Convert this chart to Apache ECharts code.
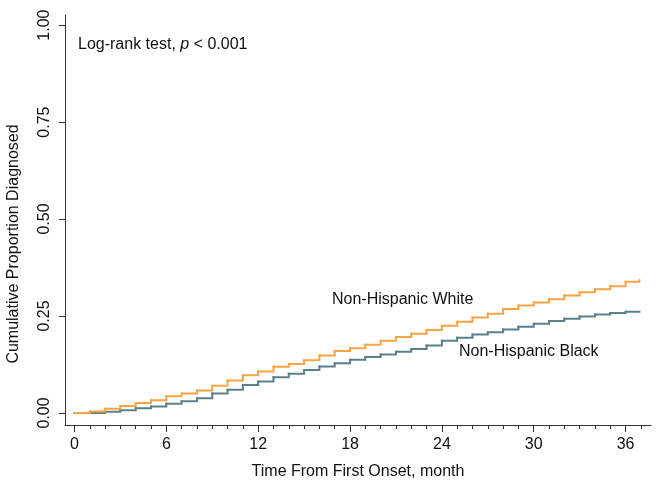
<!DOCTYPE html>
<html>
<head>
<meta charset="utf-8">
<script src="https://cdn.jsdelivr.net/npm/echarts@6/dist/echarts.min.js"></script>
<style>
  html, body { margin: 0; padding: 0; background: #fff; }
  #chart { width: 666px; height: 485px; }
</style>
</head>
<body>
<div id="chart"></div>
<script>
// months since first onset (step points), last point is the end of follow-up
const months = [0, 1, 2, 3, 4, 5, 6, 7, 8, 9, 10, 11, 12, 13, 14, 15, 16, 17, 18,
  19, 20, 21, 22, 23, 24, 25, 26, 27, 28, 29, 30, 31, 32, 33, 34, 35, 36, 36.9];

// cumulative proportion diagnosed
const whiteValues = [0, 0.004, 0.011, 0.018, 0.026, 0.033, 0.043, 0.050, 0.058, 0.070,
  0.084, 0.097, 0.107, 0.119, 0.126, 0.136, 0.148, 0.160, 0.167, 0.176, 0.186, 0.196,
  0.204, 0.214, 0.225, 0.235, 0.246, 0.256, 0.268, 0.277, 0.285, 0.293, 0.303, 0.311,
  0.319, 0.327, 0.338, 0.342];
const blackValues = [0, 0, 0.003, 0.007, 0.012, 0.017, 0.024, 0.030, 0.038, 0.050,
  0.060, 0.072, 0.081, 0.092, 0.101, 0.111, 0.120, 0.128, 0.137, 0.144, 0.151, 0.158,
  0.165, 0.174, 0.186, 0.194, 0.202, 0.208, 0.215, 0.222, 0.230, 0.237, 0.243, 0.249,
  0.254, 0.258, 0.261, 0.261];

const xMajorTicks = [0, 6, 12, 18, 24, 30, 36];
const xMinorTicks = [];
for (let m = 0; m <= 37; m++) xMinorTicks.push(m);
const yTicks = [0, 0.25, 0.5, 0.75, 1];

const font = "'Liberation Sans', Arial, Helvetica, sans-serif";
const axisColor = "#333";
const whiteColor = "#F8A443";
const blackColor = "#5B808B";

// one item per step: [x, y, nextX, nextY]
function steps(xs, ys) {
  const out = [];
  for (let i = 0; i < xs.length - 1; i++) {
    out.push([xs[i], ys[i], xs[i + 1], ys[i + 1]]);
  }
  return out;
}

// draws the horizontal run then the vertical jump, like a KM curve
function stepRenderer(color) {
  return function (params, api) {
    const a = api.coord([api.value(0), api.value(1)]);
    const b = api.coord([api.value(2), api.value(1)]);
    const c = api.coord([api.value(2), api.value(3)]);
    return {
      type: "polyline",
      shape: { points: [a, b, c] },
      style: { stroke: color, lineWidth: 2, fill: null, lineCap: "square", lineJoin: "miter" },
    };
  };
}

var myChart = echarts.init(document.getElementById("chart"));

var option = {
  animation: false,
  textStyle: { fontFamily: font },
  grid: { left: 65, right: 15, top: 15, bottom: 58 },
  xAxis: [
    {
      type: "value",
      min: -0.62,
      max: 37.66,
      position: "bottom",
      name: "Time From First Onset, month",
      nameLocation: "middle",
      nameGap: 39,
      nameTextStyle: { fontSize: 16, color: "#111", fontFamily: font },
      axisLine: { show: true, onZero: false, lineStyle: { color: axisColor, width: 1 } },
      axisTick: {
        show: true,
        length: 7,
        customValues: xMajorTicks,
        lineStyle: { color: axisColor },
      },
      axisLabel: {
        customValues: xMajorTicks,
        fontSize: 16,
        color: "#111",
        margin: 12,
        fontFamily: font,
      },
      splitLine: { show: false },
    },
    {
      type: "value",
      min: -0.62,
      max: 37.66,
      position: "bottom",
      axisLine: { show: false, onZero: false },
      axisTick: {
        show: true,
        length: 4,
        customValues: xMinorTicks,
        lineStyle: { color: axisColor },
      },
      axisLabel: { show: false },
      splitLine: { show: false },
    },
  ],
  yAxis: {
    type: "value",
    min: -0.031,
    max: 1.026,
    axisLine: { show: true, onZero: false, lineStyle: { color: axisColor, width: 1 } },
    axisTick: {
      show: true,
      length: 6,
      customValues: yTicks,
      lineStyle: { color: axisColor },
    },
    axisLabel: {
      customValues: yTicks,
      rotate: 90,
      fontSize: 16,
      color: "#111",
      margin: 12,
      fontFamily: font,
      formatter: (v) => v.toFixed(2),
    },
    splitLine: { show: false },
  },
  graphic: [
    {
      type: "text",
      x: 14,
      y: 244,
      rotation: Math.PI / 2,
      style: {
        text: "Cumulative Proportion Diagnosed",
        font: "16px " + font,
        fill: "#111",
        textAlign: "center",
        textVerticalAlign: "middle",
      },
    },
    {
      type: "text",
      x: 78,
      y: 45,
      style: {
        text: "{n|Log-rank test, }{i|p}{n| < 0.001}",
        rich: {
          n: { fontSize: 16, fontFamily: font, fill: "#111", color: "#111" },
          i: { fontSize: 16, fontFamily: font, fontStyle: "italic", fill: "#111", color: "#111" },
        },
        textVerticalAlign: "middle",
      },
    },
    {
      type: "text",
      x: 332,
      y: 300,
      style: {
        text: "Non-Hispanic White",
        font: "16px " + font,
        fill: "#111",
        textVerticalAlign: "middle",
      },
    },
    {
      type: "text",
      x: 459,
      y: 352,
      style: {
        text: "Non-Hispanic Black",
        font: "16px " + font,
        fill: "#111",
        textVerticalAlign: "middle",
      },
    },
  ],
  series: [
    {
      name: "Non-Hispanic Black",
      type: "custom",
      renderItem: stepRenderer(blackColor),
      encode: { x: [0, 2], y: [1, 3] },
      data: steps(months, blackValues),
      z: 2,
    },
    {
      name: "Non-Hispanic White",
      type: "custom",
      renderItem: stepRenderer(whiteColor),
      encode: { x: [0, 2], y: [1, 3] },
      data: steps(months, whiteValues),
      z: 3,
    },
  ],
};

option && myChart.setOption(option);
</script>
</body>
</html>
